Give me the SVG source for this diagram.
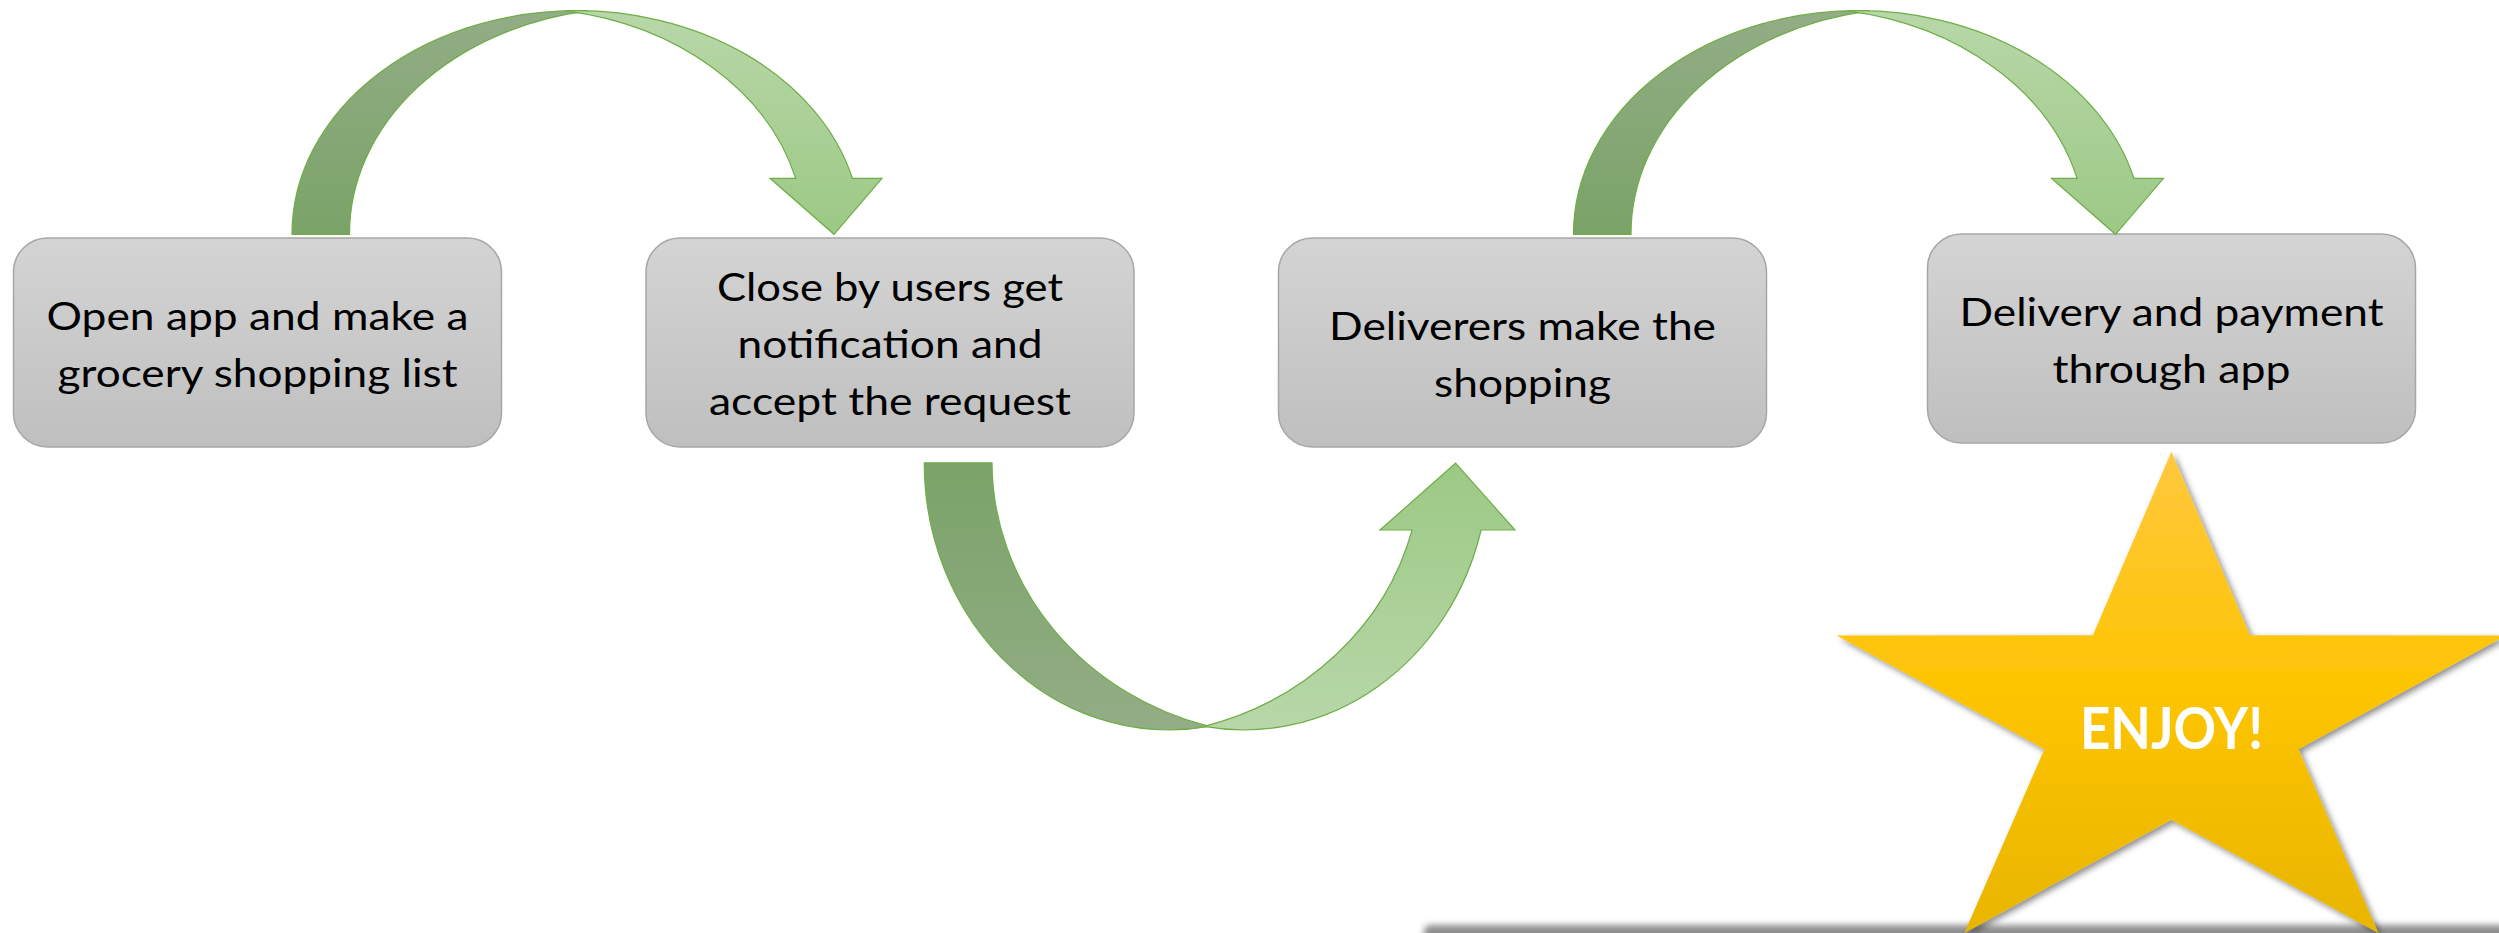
<svg xmlns="http://www.w3.org/2000/svg" width="2499" height="933" viewBox="0 0 2499 933">
  <defs>
    <linearGradient id="boxFill" x1="0" y1="0" x2="0" y2="1">
      <stop offset="0" stop-color="#d4d4d4"/>
      <stop offset="1" stop-color="#bfbfbf"/>
    </linearGradient>
    <!-- curved arrows that arc over the top: light at the crest, darker at the ends -->
    <linearGradient id="backDown" x1="0" y1="0" x2="0" y2="1">
      <stop offset="0" stop-color="#93ad86"/>
      <stop offset="1" stop-color="#7aa368"/>
    </linearGradient>
    <linearGradient id="frontDown" x1="0" y1="0" x2="0" y2="1">
      <stop offset="0" stop-color="#b8d7a9"/>
      <stop offset="1" stop-color="#9cc985"/>
    </linearGradient>
    <!-- curved arrow that dips below: the same shading flipped -->
    <linearGradient id="backUp" x1="0" y1="0" x2="0" y2="1">
      <stop offset="0" stop-color="#7aa368"/>
      <stop offset="1" stop-color="#93ad86"/>
    </linearGradient>
    <linearGradient id="frontUp" x1="0" y1="0" x2="0" y2="1">
      <stop offset="0" stop-color="#9cc985"/>
      <stop offset="1" stop-color="#b8d7a9"/>
    </linearGradient>
    <linearGradient id="starFill" x1="0" y1="0" x2="0" y2="1">
      <stop offset="0" stop-color="#ffc83e"/>
      <stop offset="0.5" stop-color="#fdc401"/>
      <stop offset="1" stop-color="#e8b500"/>
    </linearGradient>
    <filter id="starShadow" x="-10%" y="-10%" width="125%" height="125%">
      <feDropShadow dx="3" dy="3" stdDeviation="3" flood-color="#000000" flood-opacity="0.45"/>
    </filter>
    <filter id="soft" x="-5%" y="-50%" width="110%" height="200%">
      <feGaussianBlur stdDeviation="3"/>
    </filter>
    <style>
      .box { fill: url(#boxFill); stroke: #a6a6a6; stroke-width: 1.5; }
      .label { font-family: Lato, "Liberation Sans", sans-serif; font-size: 39px; fill: #000000; text-anchor: middle; }
      .arrow { stroke: #70ad47; stroke-width: 1.2; stroke-linejoin: miter; }
      .star-label { font-family: Lato, "Liberation Sans", sans-serif; font-weight: 700; font-size: 57px; fill: #ffffff; text-anchor: middle; }
    </style>
  </defs>

  <rect x="0" y="0" width="2499" height="933" fill="#ffffff"/>

  <!-- soft grey edge along the bottom right -->
  <rect x="1424" y="925" width="1110" height="40" rx="6" fill="#8e8e8e" filter="url(#soft)"/>

  <!-- step boxes -->
  <g id="node-open-app">
    <rect class="box" x="13.5" y="238" width="488" height="209" rx="34"/>
    <text class="label" x="257.5" y="329.5" textLength="422" lengthAdjust="spacingAndGlyphs">Open app and make a</text>
    <text class="label" x="257.5" y="387.3" textLength="400" lengthAdjust="spacingAndGlyphs">grocery shopping list</text>
  </g>

  <g id="node-accept-request">
    <rect class="box" x="646" y="238" width="488" height="209" rx="34"/>
    <text class="label" x="890" y="300.7" textLength="346" lengthAdjust="spacingAndGlyphs">Close by users get</text>
    <text class="label" x="890" y="358" textLength="305" lengthAdjust="spacingAndGlyphs">notification and</text>
    <text class="label" x="890" y="415" textLength="362" lengthAdjust="spacingAndGlyphs">accept the request</text>
  </g>

  <g id="node-shopping">
    <rect class="box" x="1278.5" y="238" width="488" height="209" rx="34"/>
    <text class="label" x="1522.5" y="340" textLength="387" lengthAdjust="spacingAndGlyphs">Deliverers make the</text>
    <text class="label" x="1522.5" y="397" textLength="177" lengthAdjust="spacingAndGlyphs">shopping</text>
  </g>

  <g id="node-delivery">
    <rect class="box" x="1927.5" y="234" width="488" height="209" rx="34"/>
    <text class="label" x="2171.5" y="326" textLength="424" lengthAdjust="spacingAndGlyphs">Delivery and payment</text>
    <text class="label" x="2171.5" y="383.3" textLength="238" lengthAdjust="spacingAndGlyphs">through app</text>
  </g>

  <!-- curved block arrows between the steps -->
  <g id="connectors">
    <g id="arrow-open-to-accept">
      <path class="arrow" fill="url(#backDown)" d="M 292 234.3 A 284.5 223.3 0 0 1 588.3 10.9 A 284 226 0 0 0 349.5 234.3 Z"/>
      <path class="arrow" fill="url(#frontDown)" d="M 565.7 10.9 A 284.5 223.3 0 0 1 852.4 178.3 L 882 178.3 L 834 234.3 L 770 178.3 L 795.6 178.3 A 284 226 0 0 0 565.7 10.9 Z"/>
    </g>
    <g id="arrow-accept-to-shopping">
      <path class="arrow" fill="url(#backUp)" d="M 924.3 462.8 A 245 266.3 0 0 0 1209 726.4 A 295 274.6 0 0 1 992 462.8 Z"/>
      <path class="arrow" fill="url(#frontUp)" d="M 1204 726.4 A 245 266.3 0 0 0 1481.1 530 L 1515 530 L 1455.6 463.2 L 1380 530 L 1412.1 530 A 295 274.6 0 0 1 1204 726.4 Z"/>
    </g>
    <g id="arrow-shopping-to-delivery" transform="translate(1281.5 0)">
      <path class="arrow" fill="url(#backDown)" d="M 292 234.3 A 284.5 223.3 0 0 1 588.3 10.9 A 284 226 0 0 0 349.5 234.3 Z"/>
      <path class="arrow" fill="url(#frontDown)" d="M 565.7 10.9 A 284.5 223.3 0 0 1 852.4 178.3 L 882 178.3 L 834 234.3 L 770 178.3 L 795.6 178.3 A 284 226 0 0 0 565.7 10.9 Z"/>
    </g>
  </g>

  <!-- closing star -->
  <g id="node-enjoy">
    <polygon fill="url(#starFill)" filter="url(#starShadow)" points="2171.4,451.7 2249.9,635.2 2506.2,635.5 2298.4,749.2 2378.4,933 2171.4,819.7 1964.4,933 2044.4,749.2 1836.6,635.5 2092.9,635.2"/>
    <text class="star-label" x="2171.5" y="749" textLength="183" lengthAdjust="spacingAndGlyphs">ENJOY!</text>
  </g>
</svg>
